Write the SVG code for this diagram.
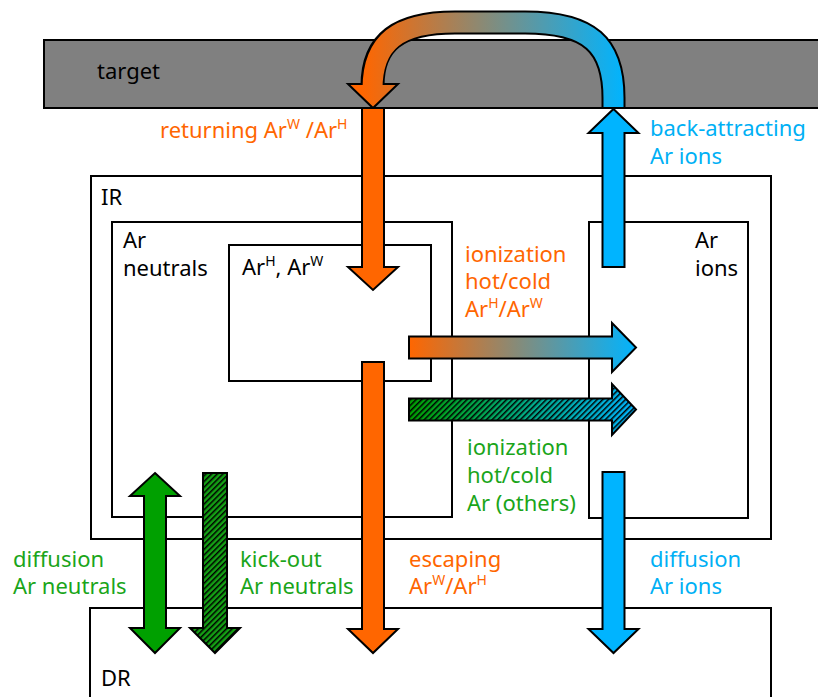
<svg xmlns="http://www.w3.org/2000/svg" width="818" height="697" viewBox="0 0 818 697">
  <style>
    text { font-family: "Noto Sans", "Open Sans", "DejaVu Sans", sans-serif; font-size: 22px; }
    .box { fill: none; stroke: #000; stroke-width: 2; }
    .arrow { stroke: #000; stroke-width: 2; stroke-linejoin: miter; }
    .sup { font-size: 14px; }
    .black { fill: #000; }
    .orange { fill: #ff6600; }
    .green { fill: #1aa51a; }
    .blue { fill: #00b0f5; }
  </style>
  <defs>
    <linearGradient id="gradCurve" gradientUnits="userSpaceOnUse" x1="362" y1="0" x2="625" y2="0">
      <stop offset="0" stop-color="#ff6600"/>
      <stop offset="1" stop-color="#00b4ff"/>
    </linearGradient>
    <linearGradient id="gradIonHW" gradientUnits="userSpaceOnUse" x1="409" y1="0" x2="637" y2="0">
      <stop offset="0" stop-color="#ff6600"/>
      <stop offset="1" stop-color="#00b4ff"/>
    </linearGradient>
    <linearGradient id="gradIonOther" gradientUnits="userSpaceOnUse" x1="409" y1="0" x2="637" y2="0">
      <stop offset="0" stop-color="#00a000"/>
      <stop offset="1" stop-color="#00b4ff"/>
    </linearGradient>
    <pattern id="hatch" width="4" height="4" patternUnits="userSpaceOnUse" patternTransform="rotate(45)">
      <rect x="0" y="0" width="1.5" height="4" fill="#000"/>
    </pattern>
    <polygon id="kickShape" points="203,473 227,473 227,628 240,628 215,653 190,628 203,628"/>
    <polygon id="ionOtherShape" points="409,398.5 612,398.5 612,384 636,409.5 612,435 612,420.5 409,420.5"/>
  </defs>

  <!-- target plate -->
  <g id="target">
    <rect x="44" y="40" width="790" height="68" fill="#808080" stroke="#000" stroke-width="2"/>
    <text class="black" x="97" y="79">target</text>
  </g>

  <!-- regions -->
  <g id="IR">
    <rect class="box" x="91" y="176" width="680" height="363"/>
    <text class="black" x="101" y="205">IR</text>
  </g>
  <g id="ArNeutrals">
    <rect class="box" x="112" y="222" width="340" height="295"/>
    <text class="black" x="123" y="248">Ar</text>
    <text class="black" x="123" y="276">neutrals</text>
  </g>
  <g id="ArHW">
    <rect class="box" x="229" y="245" width="202" height="136"/>
    <text class="black" x="242" y="275">Ar<tspan class="sup" dy="-9">H</tspan><tspan dy="9">, Ar</tspan><tspan class="sup" dy="-9">W</tspan></text>
  </g>
  <g id="ArIons">
    <rect class="box" x="589" y="222" width="159" height="296"/>
    <text class="black" x="695" y="248">Ar</text>
    <text class="black" x="695" y="276">ions</text>
  </g>
  <g id="DR">
    <path class="box" d="M90,700 V608 H771 V700"/>
    <text class="black" x="101" y="686">DR</text>
  </g>

  <!-- transport arrows -->
  <g id="connectors">
    <!-- returning / back-attracted loop over the target -->
    <path d="M613.5,108 V98 C613.5,45 590,22.5 525,22.5 H455 C398,22.5 372.5,42 372.5,86" fill="none" stroke="#000" stroke-width="24"/>
    <polygon class="arrow" points="348,84 398,84 373,108" fill="url(#gradCurve)"/>
    <path d="M613.5,107 V98 C613.5,45 590,22.5 525,22.5 H455 C398,22.5 372.5,42 372.5,89" fill="none" stroke="url(#gradCurve)" stroke-width="20"/>

    <!-- returning Ar into the hot/warm pool -->
    <polygon class="arrow" fill="#ff6600" points="362,108 384,108 384,267 398,267 373,290 348,267 362,267"/>
    <!-- escaping Ar to DR -->
    <polygon class="arrow" fill="#ff6600" points="362,362 384,362 384,629 398,629 373,653 348,629 362,629"/>

    <!-- back-attracting ions -->
    <polygon class="arrow" fill="#00b4ff" points="613.5,109 638.5,133 624.5,133 624.5,267 602.5,267 602.5,133 588.5,133"/>
    <!-- ion diffusion -->
    <polygon class="arrow" fill="#00b4ff" points="602.5,472 624.5,472 624.5,629 638.5,629 613.5,653 588.5,629 602.5,629"/>

    <!-- neutral diffusion (both ways) -->
    <polygon class="arrow" fill="#00a000" points="155,473 180,496 166,496 166,628 180,628 155,653 130,628 144,628 144,496 130,496"/>
    <!-- kick-out of neutrals -->
    <use href="#kickShape" fill="#14a014"/>
    <use href="#kickShape" fill="url(#hatch)"/>
    <use href="#kickShape" class="arrow" fill="none"/>

    <!-- ionization of hot/cold ArH/ArW -->
    <polygon class="arrow" fill="url(#gradIonHW)" points="409,336.5 612,336.5 612,323 636,347.5 612,372 612,358.5 409,358.5"/>
    <!-- ionization of other Ar -->
    <use href="#ionOtherShape" fill="url(#gradIonOther)"/>
    <use href="#ionOtherShape" fill="url(#hatch)"/>
    <use href="#ionOtherShape" class="arrow" fill="none"/>
  </g>

  <!-- arrow labels -->
  <g id="labels">
    <text class="orange" x="160" y="138">returning Ar<tspan class="sup" dy="-9">W</tspan><tspan dy="9"> /Ar</tspan><tspan class="sup" dy="-9">H</tspan></text>
    <text class="blue" x="650" y="136">back-attracting</text>
    <text class="blue" x="650" y="164">Ar ions</text>
    <text class="orange" x="465" y="262">ionization</text>
    <text class="orange" x="465" y="289">hot/cold</text>
    <text class="orange" x="465" y="317">Ar<tspan class="sup" dy="-9">H</tspan><tspan dy="9">/Ar</tspan><tspan class="sup" dy="-9">W</tspan></text>
    <text class="green" x="467" y="455">ionization</text>
    <text class="green" x="467" y="483">hot/cold</text>
    <text class="green" x="467" y="511">Ar (others)</text>
    <text class="green" x="13" y="567">diffusion</text>
    <text class="green" x="13" y="594">Ar neutrals</text>
    <text class="green" x="240" y="567">kick-out</text>
    <text class="green" x="240" y="594">Ar neutrals</text>
    <text class="orange" x="409" y="567">escaping</text>
    <text class="orange" x="409" y="594">Ar<tspan class="sup" dy="-9">W</tspan><tspan dy="9">/Ar</tspan><tspan class="sup" dy="-9">H</tspan></text>
    <text class="blue" x="650" y="567">diffusion</text>
    <text class="blue" x="650" y="594">Ar ions</text>
  </g>
</svg>
